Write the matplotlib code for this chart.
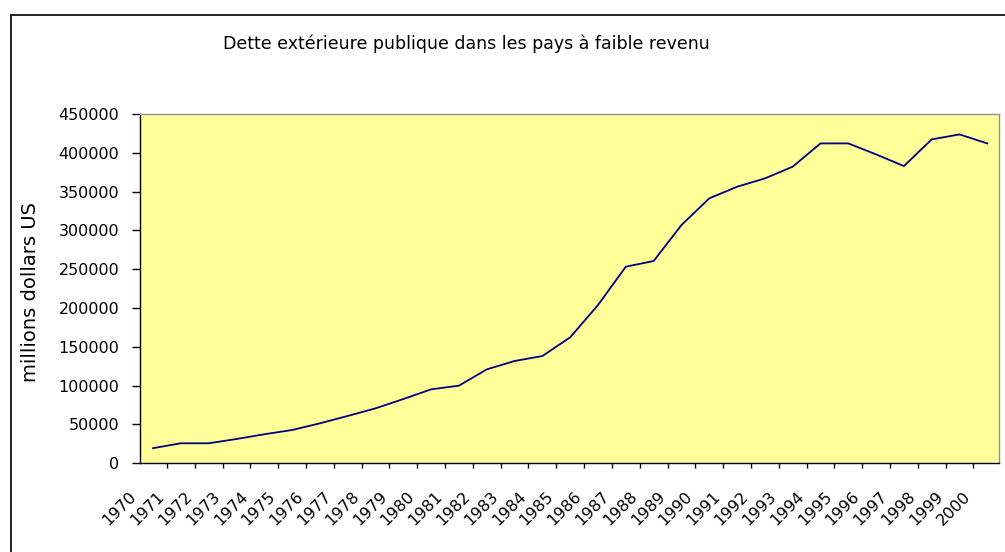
import matplotlib
matplotlib.use("Agg")
import matplotlib.pyplot as plt
import matplotlib.transforms as mtransforms
from matplotlib.patches import Rectangle
from matplotlib.ticker import FixedLocator

years = [str(y) for y in range(1970, 2001)]
debt = [19500, 25800, 25800, 31300, 37400, 42900, 51500, 61000, 70800, 82800,
        95300, 100000, 121000, 131800, 138200, 162300, 203900, 253300, 260600, 306900,
        341300, 356300, 367000, 382100, 412100, 412100, 398000, 382900, 417300, 423700,
        412100]
yticks = list(range(0, 450001, 50000))
title = "Dette extérieure publique dans les pays à faible revenu"
ylabel = "millions dollars US"

W, H = 1005, 552
fig = plt.figure(figsize=(W / 100, H / 100), dpi=100)
fig.patch.set_facecolor("white")

# outer chart border
fig.patches.append(Rectangle((11 / W, -0.1), 1.2, 1 - 15 / H + 0.1,
                             transform=fig.transFigure, fill=False,
                             edgecolor="#222222", linewidth=1.4))

ax = fig.add_axes([140 / W, 88.7 / H, 859.3 / W, 349.3 / H])
ax.set_facecolor("#FFFF99")

x = list(range(len(years)))
ax.plot(x, debt, color="#000080", linewidth=1.3)

ax.set_xlim(-0.47, 30.43)
ax.set_ylim(0, 450000)

ax.set_yticks(yticks)
ax.set_yticklabels([str(v) for v in yticks], fontsize=11.5, family="DejaVu Sans")
ax.tick_params(axis="y", direction="out", length=6, width=1, pad=9, color="black")

ax.set_xticks(x)
ax.set_xticklabels([])
ax.tick_params(axis="x", which="major", length=0)
ax.xaxis.set_minor_locator(FixedLocator([i + 0.5 for i in range(-1, len(years))]))
ax.tick_params(axis="x", which="minor", direction="out", length=3.5, width=1, color="black")

off = mtransforms.offset_copy(ax.get_xaxis_transform(), fig=fig, x=-19, y=-31, units="dots")
for i, lab in enumerate(years):
    ax.text(i, 0, lab, transform=off, rotation=45, rotation_mode="anchor",
            ha="right", va="center", fontsize=11.5, family="DejaVu Sans")

for s in ["left", "bottom"]:
    ax.spines[s].set_color("black")
    ax.spines[s].set_linewidth(1.0)
for s in ["top", "right"]:
    ax.spines[s].set_color("#909090")
    ax.spines[s].set_linewidth(1.0)

fig.text(466 / W, 1 - 44 / H, title, ha="center", va="center", fontsize=12.5,
         family="DejaVu Sans")
fig.text(31 / W, 1 - 292 / H, ylabel, rotation=90, ha="center", va="center",
         fontsize=14, family="DejaVu Sans")

fig.savefig("out.png", dpi=100, facecolor="white")
